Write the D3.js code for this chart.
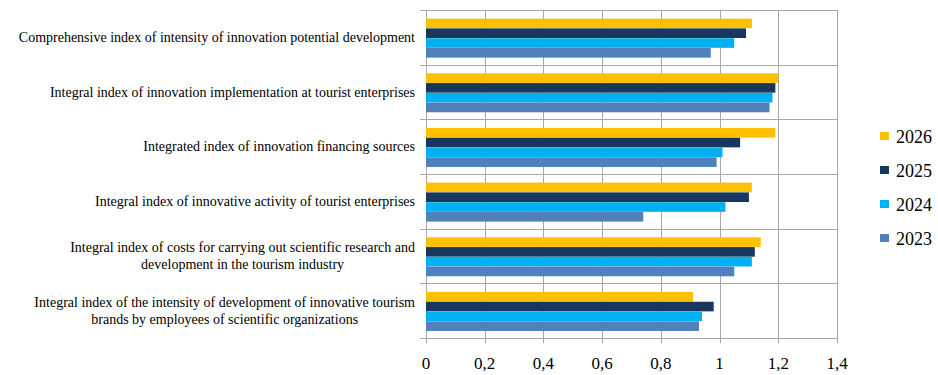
<!DOCTYPE html>
<html>
<head>
<meta charset="utf-8">
<script src="https://cdn.jsdelivr.net/npm/d3@7"></script>
<style>
  body { margin: 0; background: #fff; }
  text { font-family: "Liberation Serif", "DejaVu Serif", serif; fill: #000; }
</style>
</head>
<body>
<div id="chart"></div>
<script>
var categories = [
  ["Comprehensive index of intensity of innovation potential development"],
  ["Integral index of innovation implementation at tourist enterprises"],
  ["Integrated index of innovation financing sources"],
  ["Integral index of innovative activity of tourist enterprises"],
  ["Integral index of costs for carrying out scientific research and", "development in the tourism industry"],
  ["Integral index of the intensity of development of innovative tourism", "brands by employees of scientific organizations"]
];
var years = ["2026", "2025", "2024", "2023"];
var values2026 = [1.11, 1.20, 1.19, 1.11, 1.14, 0.91];
var values2025 = [1.09, 1.19, 1.07, 1.10, 1.12, 0.98];
var values2024 = [1.05, 1.18, 1.01, 1.02, 1.11, 0.94];
var values2023 = [0.97, 1.17, 0.99, 0.74, 1.05, 0.93];
var tickValues = [0, 0.2, 0.4, 0.6, 0.8, 1, 1.2, 1.4];

var series = [values2026, values2025, values2024, values2023];
var colours = ["#FFC000", "#17375E", "#00B0F0", "#4F81BD"];

var width = 938, height = 375;
var plotLeft = 426, plotRight = 837, plotTop = 10, plotBottom = 338;

var svg = d3.select("#chart").append("svg")
  .attr("width", width)
  .attr("height", height);

var x = d3.scaleLinear().domain([0, 1.4]).range([plotLeft, plotRight]);
var y = d3.scaleBand().domain(d3.range(categories.length)).range([plotTop, plotBottom]);
var inner = d3.scaleBand().domain(d3.range(years.length))
  .range([0, y.bandwidth()]).paddingOuter(0.8).paddingInner(0.02).align(0.55);

// grid
var grid = svg.append("g").attr("stroke", "#a6a6a6").attr("stroke-width", 1);
grid.selectAll(".v").data(tickValues).enter().append("line")
  .attr("x1", d => Math.round(x(d)) + 0.5).attr("x2", d => Math.round(x(d)) + 0.5)
  .attr("y1", plotTop).attr("y2", plotBottom + 5);
grid.selectAll(".h").data(d3.range(categories.length + 1)).enter().append("line")
  .attr("x1", plotLeft - 6).attr("x2", plotRight)
  .attr("y1", d => Math.round(plotTop + d * y.step()) + 0.5)
  .attr("y2", d => Math.round(plotTop + d * y.step()) + 0.5);

// bars
series.forEach(function(vals, s) {
  svg.append("g").selectAll("rect").data(vals).enter().append("rect")
    .attr("x", x(0))
    .attr("y", (d, i) => y(i) + inner(s))
    .attr("width", d => x(d) - x(0))
    .attr("height", inner.bandwidth())
    .attr("fill", colours[s]);
});

// x axis labels
var fmt = d3.format("~g");
svg.append("g").selectAll("text").data(tickValues).enter().append("text")
  .attr("x", d => x(d))
  .attr("y", 369)
  .attr("text-anchor", "middle")
  .attr("font-size", "17px")
  .text(d => fmt(d).replace(".", ","));

// category labels
var labels = svg.append("g").attr("font-size", "14px");
categories.forEach(function(lines, i) {
  var cy = y(i) + y.bandwidth() / 2;
  var lh = 17;
  var t = labels.append("text");
  var spans = lines.map(function(line, k) {
    return t.append("tspan").attr("y", cy + 4.5 + (k - (lines.length - 1) / 2) * lh).text(line);
  });
  var maxW = d3.max(spans, s => s.node().getComputedTextLength());
  var cx = 415 - maxW / 2;
  spans.forEach(s => s.attr("x", cx).attr("text-anchor", "middle"));
});

// legend
var legend = svg.append("g");
years.forEach(function(yr, i) {
  var ly = 137 + i * 34;
  legend.append("rect").attr("x", 880).attr("y", ly - 5).attr("width", 9).attr("height", 8)
    .attr("fill", colours[i]);
  legend.append("text").attr("x", 896).attr("y", ly + 6)
    .attr("font-size", "18px").text(yr);
});
</script>
</body>
</html>
